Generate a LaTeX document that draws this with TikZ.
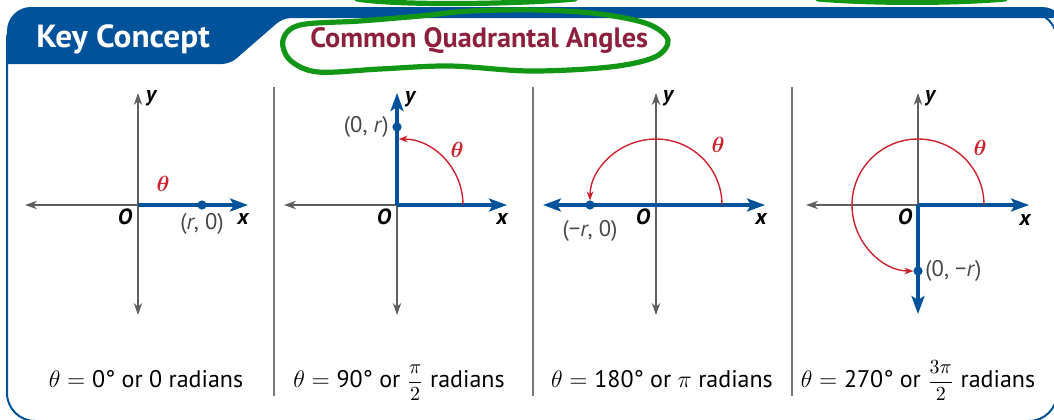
\documentclass[tikz,border=0pt]{standalone}
\usepackage{amsmath}
\usepackage{bm}
\usepackage{fontspec}
\setmainfont{PT Sans}
\usetikzlibrary{
	arrows.meta,
	positioning
}

\definecolor{kcblue}{RGB}{0,82,155}
\definecolor{kcred}{RGB}{140,32,62}
\definecolor{thred}{RGB}{205,35,45}
\definecolor{axgray}{RGB}{95,95,95}
\definecolor{lblgray}{RGB}{70,70,70}
\definecolor{pengreen}{RGB}{18,150,22}

\newcommand{\fr}[1]{{\fontsize{9.6}{11}\selectfont$\dfrac{#1}{2}$}}

\begin{document}
\begin{tikzpicture}[
			x=0.5pt, y=0.5pt,
			>=Stealth,
			gtip/.tip={Stealth[length=6pt,width=4.2pt]},
			btip/.tip={Stealth[length=9pt,width=6.5pt,inset=2pt]},
			eixo/.style={axgray, line width=1pt, -gtip},
			eixos/.style={axgray, line width=1pt, gtip-gtip},
			lado/.style={kcblue, line width=1.6pt, -btip},
			lados/.style={kcblue, line width=1.6pt, btip-btip},
			giro/.style={thred, line width=0.7pt, -{Stealth[length=4.5pt,width=3.4pt]}},
			ponto/.style={circle, fill=kcblue, inner sep=0pt, minimum size=4.6pt},
			rot/.style={text=lblgray, inner sep=1pt, font=\fontsize{11.3}{13}\selectfont},
			eix/.style={inner sep=0pt, font=\fontsize{11}{13}\selectfont\bfseries\itshape},
			ang/.style={text=thred, inner sep=0pt, font=\fontsize{11}{13}\selectfont},
			leg/.style={anchor=base, font=\fontsize{12}{14}\selectfont},
			sep/.style={axgray!85, line width=0.9pt},
			caneta/.style={pengreen, line width=2.6pt, line cap=round, line join=round}
		]
		\useasboundingbox (0,0) rectangle (1054,-419);
		\clip (0,0) rectangle (1054,-419);

		\draw[kcblue, line width=1pt, rounded corners=14] (7,-12) rectangle (1057,-421);
		\fill[kcblue] (7,-64) [rounded corners=12] -- (7,-7) -- (1066,-7) [sharp corners] -- (1066,-18) [rounded corners=4] -- (283,-18) -- (230,-64) [sharp corners] -- cycle;

		\node[anchor=base west, text=white, inner sep=0pt, font=\fontsize{16}{19}\selectfont\bfseries] (kc) at (36,-47) {\scalebox{1.04}[1]{Key Concept}};
		\node[anchor=base west, text=kcred, inner sep=0pt, font=\fontsize{14}{17}\selectfont\bfseries] (cqa) at (310,-47) {\scalebox{1.01}[1]{Common Quadrantal Angles}};

		\draw[caneta] plot[smooth cycle, tension=0.55] coordinates {(283,-40) (300,-25) (360,-21) (420,-16) (470,-11) (540,-10) (600,-14) (648,-24) (668,-40) (655,-57) (610,-67) (530,-71) (450,-66) (380,-69) (318,-72) (290,-60)};
		\draw[caneta] (357,1) .. controls (400,-6) and (520,-4) .. (575,1);
		\draw[caneta] (818,1) .. controls (880,-4) and (960,-3) .. (1005,1);

		\draw[sep] (274,-87) -- (274,-396);
		\draw[sep] (533,-87) -- (533,-396);
		\draw[sep] (792,-87) -- (792,-396);

		\coordinate (o1) at (138,-205);
		\coordinate (l1) at (25,-205);
		\coordinate (r1) at (248,-205);
		\coordinate (u1) at (138,-93);
		\coordinate (d1) at (138,-315);
		\draw[eixos] (d1) -- (u1);
		\draw[eixo] (o1) -- (l1);
		\draw[lado] (o1) -- (r1);
		\node[ponto] (p1) at (202,-205) {};
		\node[rot, below=0.5pt of p1] (p1t) {(\textit{r}, 0)};
		\node[ang] (t1) at (163,-184) {$\bm{\theta}$};
		\node[eix] (n1) at (125,-217) {O};
		\node[eix] (x1) at (243,-219) {x};
		\node[eix] (y1) at (151,-98) {y};
		\node[leg] (c1) at (146,-387) {$\theta = {}$0° or 0 radians};

		\coordinate (o2) at (397,-205);
		\coordinate (l2) at (284,-205);
		\coordinate (r2) at (507,-205);
		\coordinate (u2) at (397,-93);
		\coordinate (d2) at (397,-315);
		\coordinate (s2) at (463,-205);
		\draw[eixo] (o2) -- (l2);
		\draw[eixo] (o2) -- (d2);
		\draw[lado] (o2) -- (r2);
		\draw[lado] (o2) -- (u2);
		\draw[giro, shorten >=0.8pt] (s2) arc[start angle=0, end angle=90, radius=66];
		\node[ponto] (p2) at (397,-127) {};
		\node[rot, left=0.5pt of p2] (p2t) {(0, \textit{r})};
		\node[ang] (t2) at (457,-150) {$\bm{\theta}$};
		\node[eix] (n2) at (384,-217) {O};
		\node[eix] (x2) at (502,-219) {x};
		\node[eix] (y2) at (410,-99) {y};
		\node[leg] (c2) at (399,-387) {$\theta = {}$90° or \fr{\pi} radians};

		\coordinate (o3) at (656,-205);
		\coordinate (l3) at (543,-205);
		\coordinate (r3) at (765,-205);
		\coordinate (u3) at (656,-93);
		\coordinate (d3) at (656,-315);
		\coordinate (s3) at (722,-205);
		\draw[eixos] (d3) -- (u3);
		\draw[lados] (l3) -- (r3);
		\draw[giro, shorten >=2.3pt] (s3) arc[start angle=0, end angle=180, radius=66];
		\node[ponto] (p3) at (590,-205) {};
		\node[rot, below=4pt of p3] (p3t) {(−\textit{r}, 0)};
		\node[ang] (t3) at (718,-145) {$\bm{\theta}$};
		\node[eix] (n3) at (643,-217) {O};
		\node[eix] (x3) at (761,-219) {x};
		\node[eix] (y3) at (668,-98) {y};
		\node[leg] (c3) at (662,-387) {$\theta = {}$180° or $\pi$ radians};

		\coordinate (o4) at (918,-205);
		\coordinate (l4) at (806,-205);
		\coordinate (r4) at (1029,-205);
		\coordinate (u4) at (918,-93);
		\coordinate (d4) at (918,-314);
		\coordinate (s4) at (984,-205);
		\draw[eixo] (o4) -- (l4);
		\draw[eixo] (o4) -- (u4);
		\draw[lado] (o4) -- (r4);
		\draw[lado] (o4) -- (d4);
		\draw[giro, shorten >=2.3pt] (s4) arc[start angle=0, end angle=270, radius=66];
		\node[ponto] (p4) at (918,-271) {};
		\node[rot, right=0pt of p4] (p4t) {(0, −\textit{r})};
		\node[ang] (t4) at (980,-148) {$\bm{\theta}$};
		\node[eix] (n4) at (905,-217) {O};
		\node[eix] (x4) at (1025,-220) {x};
		\node[eix] (y4) at (930,-98) {y};
		\node[leg] (c4) at (918,-387) {$\theta = {}$270° or \fr{3\pi} radians};
	\end{tikzpicture}
\end{document}
